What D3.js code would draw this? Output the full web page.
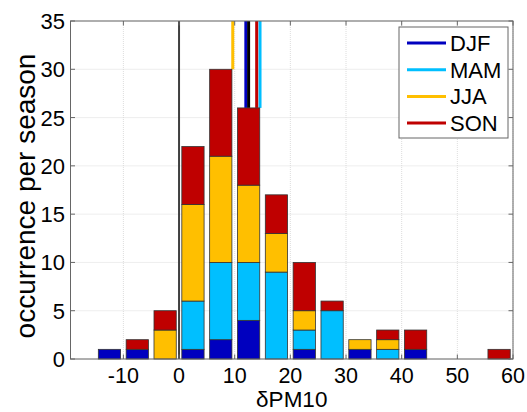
<!DOCTYPE html>
<html>
<head>
<meta charset="utf-8">
<script src="https://cdn.jsdelivr.net/npm/d3@7"></script>
<style>
body { margin: 0; background: #fff; }
text { font-family: "Liberation Sans", Arial, sans-serif; fill: #000; }
</style>
</head>
<body>
<svg id="chart" width="527" height="412"></svg>
<script>
// bin centres (bin width 5)
var binCenters = [-12.5, -7.5, -2.5, 2.5, 7.5, 12.5, 17.5, 22.5, 27.5, 32.5, 37.5, 42.5, 47.5, 52.5, 57.5];
var seasons = ['DJF', 'MAM', 'JJA', 'SON'];
var djf = [1, 1, 0, 1, 2, 4, 0, 1, 0, 1, 0, 1, 0, 0, 0];
var mam = [0, 0, 0, 5, 8, 6, 9, 2, 5, 0, 1, 0, 0, 0, 0];
var jja = [0, 0, 3, 10, 11, 8, 4, 2, 0, 1, 1, 0, 0, 0, 0];
var son = [0, 1, 2, 6, 9, 8, 4, 5, 1, 0, 1, 2, 0, 0, 1];
var colors = ['#0000bf', '#00bfff', '#ffbf00', '#bf0000'];
// season means (vertical markers) + overall mean in black
var seasonMeans = [12.0, 14.55, 9.65, 13.95];
var allMean = 12.5;
var xTicks = [-10, 0, 10, 20, 30, 40, 50, 60];
var yTicks = [0, 5, 10, 15, 20, 25, 30, 35];

var binWidth = 5;
var svg = d3.select('#chart');
var margin = {left: 70.5, right: 513, top: 21, bottom: 359};

var x = d3.scaleLinear().domain([-19.5, 60]).range([margin.left, margin.right]);
var y = d3.scaleLinear().domain([0, 35]).range([margin.bottom, margin.top]);

var rows = binCenters.map(function(c, i) {
    return {c: c, DJF: djf[i], MAM: mam[i], JJA: jja[i], SON: son[i]};
});
var totals = rows.map(function(r) { return r.DJF + r.MAM + r.JJA + r.SON; });
var stacked = d3.stack().keys(seasons)(rows);

// grid
var grid = svg.append('g');
grid.selectAll('.gx').data(xTicks).enter().append('line')
    .attr('x1', function(d) { return x(d); }).attr('x2', function(d) { return x(d); })
    .attr('y1', margin.top).attr('y2', margin.bottom)
    .attr('stroke', '#d4d4d4').attr('stroke-width', 0.8).attr('stroke-dasharray', '1,1');
grid.selectAll('.gy').data(yTicks).enter().append('line')
    .attr('x1', margin.left).attr('x2', margin.right)
    .attr('y1', function(d) { return y(d); }).attr('y2', function(d) { return y(d); })
    .attr('stroke', '#d4d4d4').attr('stroke-width', 0.8).attr('stroke-dasharray', '1,1');

// mean markers: drawn from top down to the bar height of the bin they fall into
var heightAt = function(v) {
    for (var i = 0; i < binCenters.length; i++) {
        if (v >= binCenters[i] - binWidth / 2 && v < binCenters[i] + binWidth / 2) return totals[i];
    }
    return 0;
};
var means = seasonMeans.map(function(m, i) { return {v: m, color: colors[i]}; });
means.push({v: allMean, color: '#000'});
svg.selectAll('.mean').data(means).enter().append('line')
    .attr('x1', function(d) { return x(d.v); }).attr('x2', function(d) { return x(d.v); })
    .attr('y1', y(35)).attr('y2', function(d) { return y(heightAt(d.v)); })
    .attr('stroke', function(d) { return d.color; })
    .attr('stroke-width', 3);

// zero line
svg.append('line')
    .attr('x1', x(0)).attr('x2', x(0)).attr('y1', margin.top).attr('y2', margin.bottom)
    .attr('stroke', '#404040').attr('stroke-width', 2);

// stacked bars
var bw = x(binWidth * 0.8) - x(0);
svg.selectAll('.layer').data(stacked).enter().append('g')
    .attr('fill', function(d, i) { return colors[i]; })
    .selectAll('rect').data(function(d) { return d; }).enter()
    .filter(function(d) { return d[1] > d[0]; })
    .append('rect')
    .attr('x', function(d) { return x(d.data.c) - bw / 2; })
    .attr('width', bw)
    .attr('y', function(d) { return y(d[1]); })
    .attr('height', function(d) { return y(d[0]) - y(d[1]); })
    .attr('stroke', '#333').attr('stroke-width', 0.8);

// box + inner ticks
svg.append('rect')
    .attr('x', margin.left).attr('y', margin.top)
    .attr('width', margin.right - margin.left).attr('height', margin.bottom - margin.top)
    .attr('fill', 'none').attr('stroke', '#666').attr('stroke-width', 1);
var tk = 4.5;
xTicks.forEach(function(t) {
    svg.append('line').attr('x1', x(t)).attr('x2', x(t)).attr('y1', margin.bottom).attr('y2', margin.bottom - tk).attr('stroke', '#666');
    svg.append('line').attr('x1', x(t)).attr('x2', x(t)).attr('y1', margin.top).attr('y2', margin.top + tk).attr('stroke', '#666');
});
yTicks.forEach(function(t) {
    svg.append('line').attr('x1', margin.left).attr('x2', margin.left + tk).attr('y1', y(t)).attr('y2', y(t)).attr('stroke', '#666');
    svg.append('line').attr('x1', margin.right).attr('x2', margin.right - tk).attr('y1', y(t)).attr('y2', y(t)).attr('stroke', '#666');
});

// tick labels
svg.selectAll('.xl').data(xTicks).enter().append('text')
    .attr('x', function(d) { return x(d); }).attr('y', 383)
    .attr('text-anchor', 'middle').style('font-size', '21.5px')
    .text(function(d) { return d; });
svg.selectAll('.yl').data(yTicks).enter().append('text')
    .attr('x', 65).attr('y', function(d) { return y(d) + 8; })
    .attr('text-anchor', 'end').style('font-size', '22px')
    .text(function(d) { return d; });

// axis titles
svg.append('text')
    .attr('x', (margin.left + margin.right) / 2).attr('y', 407)
    .attr('text-anchor', 'middle').style('font-size', '22.5px')
    .text('\u03b4PM10');
svg.append('text')
    .attr('transform', 'translate(35,196) rotate(-90)')
    .attr('text-anchor', 'middle').style('font-size', '28px')
    .text('occurrence per season');

// legend
var lg = svg.append('g');
lg.append('rect').attr('x', 399).attr('y', 27).attr('width', 109).attr('height', 111)
    .attr('fill', '#fff').attr('stroke', '#666').attr('stroke-width', 1);
seasons.forEach(function(s, i) {
    var ly = 43 + i * 26.7;
    lg.append('line').attr('x1', 407).attr('x2', 446).attr('y1', ly).attr('y2', ly)
        .attr('stroke', colors[i]).attr('stroke-width', 3);
    lg.append('text').attr('x', 450).attr('y', ly + 8).style('font-size', '22px').text(s);
});
</script>
</body>
</html>
